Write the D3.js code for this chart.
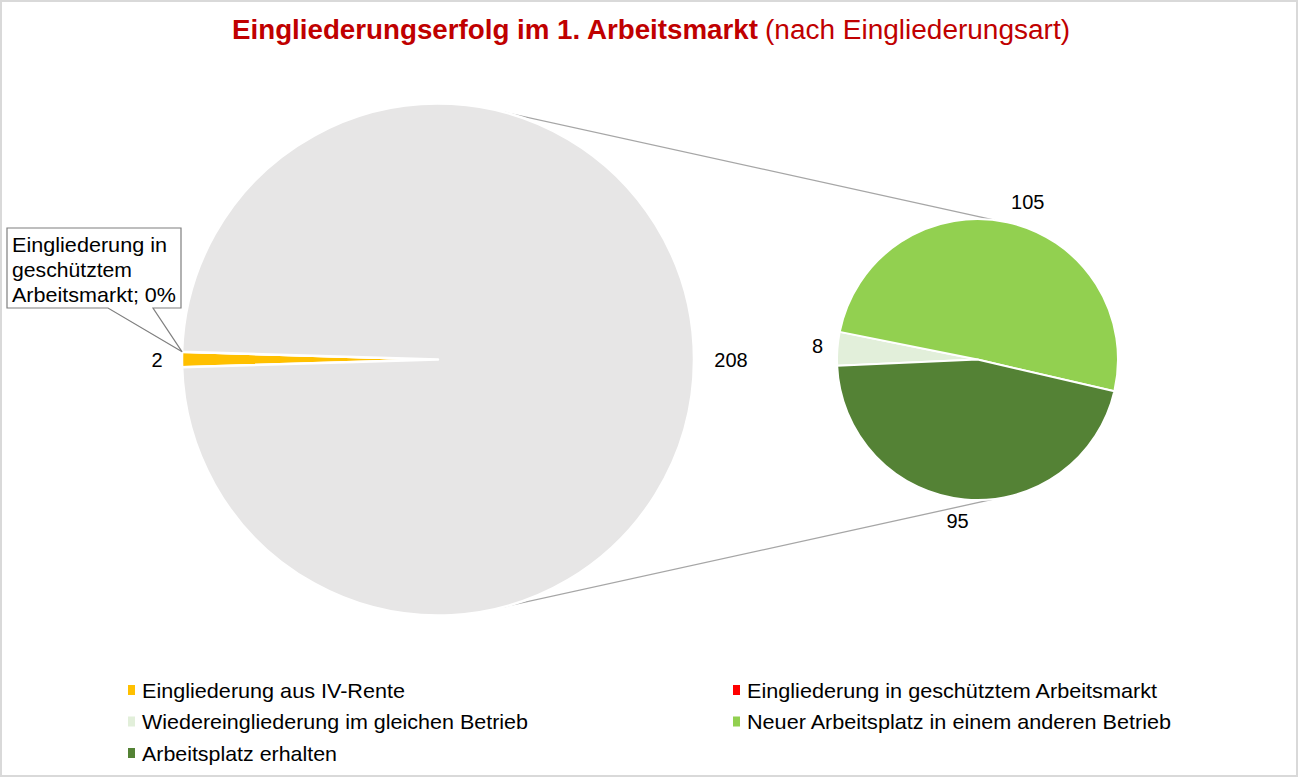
<!DOCTYPE html>
<html>
<head>
<meta charset="utf-8">
<script src="https://cdn.jsdelivr.net/npm/d3@7"></script>
<style>
  body { margin: 0; background: #fff; }
  text { font-family: "Liberation Sans", Arial, sans-serif; }
</style>
</head>
<body>
<script>
// main pie: first two categories + "other" (sum of the second pie)
var mainLabels = ["Eingliederung aus IV-Rente", "Eingliederung in geschütztem Arbeitsmarkt", "Andere"];
var mainValues = [2, 0, 208];
var mainColors = ["#FFC000", "#FF0000", "#E7E6E6"];

// secondary pie
var subLabels = ["Wiedereingliederung im gleichen Betrieb", "Neuer Arbeitsplatz in einem anderen Betrieb", "Arbeitsplatz erhalten"];
var subValues = [8, 105, 95];
var subColors = ["#E2EFDA", "#92D050", "#548235"];

var legendLabels = ["Eingliederung aus IV-Rente", "Eingliederung in geschütztem Arbeitsmarkt",
  "Wiedereingliederung im gleichen Betrieb", "Neuer Arbeitsplatz in einem anderen Betrieb",
  "Arbeitsplatz erhalten"];
var legendColors = ["#FFC000", "#FF0000", "#E2EFDA", "#92D050", "#548235"];

var width = 1299, height = 778;
var svg = d3.select("body").append("svg").attr("width", width).attr("height", height);

svg.append("rect").attr("x", 1).attr("y", 1).attr("width", width - 3).attr("height", height - 3)
  .attr("fill", "#fff").attr("stroke", "#d9d9d9").attr("stroke-width", 2);

// title
var title = svg.append("text").attr("x", 232).attr("y", 39).attr("fill", "#C00000").attr("font-size", 27);
title.append("tspan").attr("font-weight", "bold").text("Eingliederungserfolg im 1. Arbeitsmarkt")
  .attr("textLength", 526).attr("lengthAdjust", "spacingAndGlyphs");
title.append("tspan").attr("x", 765).text("(nach Eingliederungsart)")
  .attr("textLength", 305).attr("lengthAdjust", "spacingAndGlyphs");

var deg = Math.PI / 180;
var mainC = [438, 359.5], mainR = 256;
var subC = [977.5, 359.5], subR = 140.5;

// "other" slice centred on 3 o'clock, small slices at 9 o'clock
var otherAngle = 360 * mainValues[2] / d3.sum(mainValues);
var mainStart = 270 * deg - (360 - otherAngle) / 2 * deg;
var mainPie = d3.pie().sort(null).startAngle(mainStart).endAngle(mainStart + 2 * Math.PI);
var mainArcs = mainPie(mainValues);
var arcMain = d3.arc().innerRadius(0).outerRadius(mainR);

// connector lines
var lineAngMain = 15 * deg, lineAngSub = 7 * deg;
var conn = [
  [[mainC[0] + mainR * Math.sin(lineAngMain), mainC[1] - mainR * Math.cos(lineAngMain)],
   [subC[0] + subR * Math.sin(lineAngSub), subC[1] - subR * Math.cos(lineAngSub)]],
  [[mainC[0] + mainR * Math.sin(lineAngMain), mainC[1] + mainR * Math.cos(lineAngMain)],
   [subC[0] + subR * Math.sin(lineAngSub), subC[1] + subR * Math.cos(lineAngSub)]]
];
svg.selectAll(".conn").data(conn).enter().append("line").attr("class", "conn")
  .attr("x1", function(d) { return d[0][0]; }).attr("y1", function(d) { return d[0][1]; })
  .attr("x2", function(d) { return d[1][0]; }).attr("y2", function(d) { return d[1][1]; })
  .attr("stroke", "#a6a6a6").attr("stroke-width", 1.3);

var gMain = svg.append("g").attr("transform", "translate(" + mainC + ")");
gMain.selectAll("path").data(mainArcs).enter().append("path")
  .attr("d", arcMain)
  .attr("fill", function(d, i) { return mainColors[i]; })
  .attr("stroke", "#fff").attr("stroke-width", 2.5).attr("stroke-linejoin", "round");

// secondary pie
var subStart = 267.5 * deg;
var subPie = d3.pie().sort(null).startAngle(subStart).endAngle(subStart + 2 * Math.PI);
var subArcs = subPie(subValues);
var arcSub = d3.arc().innerRadius(0).outerRadius(subR);
var gSub = svg.append("g").attr("transform", "translate(" + subC + ")");
gSub.selectAll("path").data(subArcs).enter().append("path")
  .attr("d", arcSub)
  .attr("fill", function(d, i) { return subColors[i]; })
  .attr("stroke", "#fff").attr("stroke-width", 2).attr("stroke-linejoin", "round");

// value labels outside the slices
function outside(c, r, a, off) {
  return [c[0] + (r + off) * Math.sin(a), c[1] - (r + off) * Math.cos(a)];
}
var labelFont = 20;
var mainLab = [
  { v: mainValues[0], a: (mainArcs[0].startAngle + mainArcs[0].endAngle) / 2, off: 25 },
  { v: mainValues[2], a: (mainArcs[2].startAngle + mainArcs[2].endAngle) / 2, off: 37 }
];
mainLab.forEach(function(d) {
  var p = outside(mainC, mainR, d.a, d.off);
  svg.append("text").attr("x", p[0]).attr("y", p[1] + 7).attr("text-anchor", "middle")
    .attr("font-size", labelFont).attr("fill", "#000").text(d.v);
});
var subOff = [20, 26, 22];
var subShift = [[0, -1], [15, 5], [-5, 0]];
subArcs.forEach(function(d, i) {
  var a = (d.startAngle + d.endAngle) / 2;
  var p = outside(subC, subR, a, subOff[i]);
  svg.append("text").attr("x", p[0] + subShift[i][0]).attr("y", p[1] + 7 + subShift[i][1])
    .attr("text-anchor", "middle").attr("font-size", labelFont).attr("fill", "#000").text(d.value);
});

// callout for the 0 slice
var tip = outside(mainC, mainR, mainArcs[1].startAngle, 0);
svg.append("path")
  .attr("d", "M7,228 H181 V308 H153 L" + tip[0] + "," + tip[1] + " L108,308 H7 Z")
  .attr("fill", "#fff").attr("stroke", "#7f7f7f").attr("stroke-width", 1.2);
var callLines = ["Eingliederung in", "geschütztem", "Arbeitsmarkt; " + mainValues[1] + "%"];
var callWidths = [155, 120, 164];
callLines.forEach(function(t, i) {
  svg.append("text").attr("x", 12).attr("y", 252 + i * 25).attr("font-size", 21).attr("fill", "#000")
    .attr("textLength", callWidths[i]).attr("lengthAdjust", "spacingAndGlyphs").text(t);
});

// legend
var legX = [128, 733], legY = [690, 721.5, 753];
var legWidths = [263, 410, 386, 424, 195];
legendLabels.forEach(function(t, i) {
  var col = i % 2, row = Math.floor(i / 2);
  var g = svg.append("g").attr("transform", "translate(" + legX[col] + "," + legY[row] + ")");
  g.append("rect").attr("x", 0).attr("y", -5).attr("width", 7).attr("height", 10).attr("fill", legendColors[i]);
  g.append("text").attr("x", 14).attr("y", 7.5).attr("font-size", 21).attr("fill", "#000")
    .attr("textLength", legWidths[i]).attr("lengthAdjust", "spacingAndGlyphs").text(t);
});
</script>
</body>
</html>
